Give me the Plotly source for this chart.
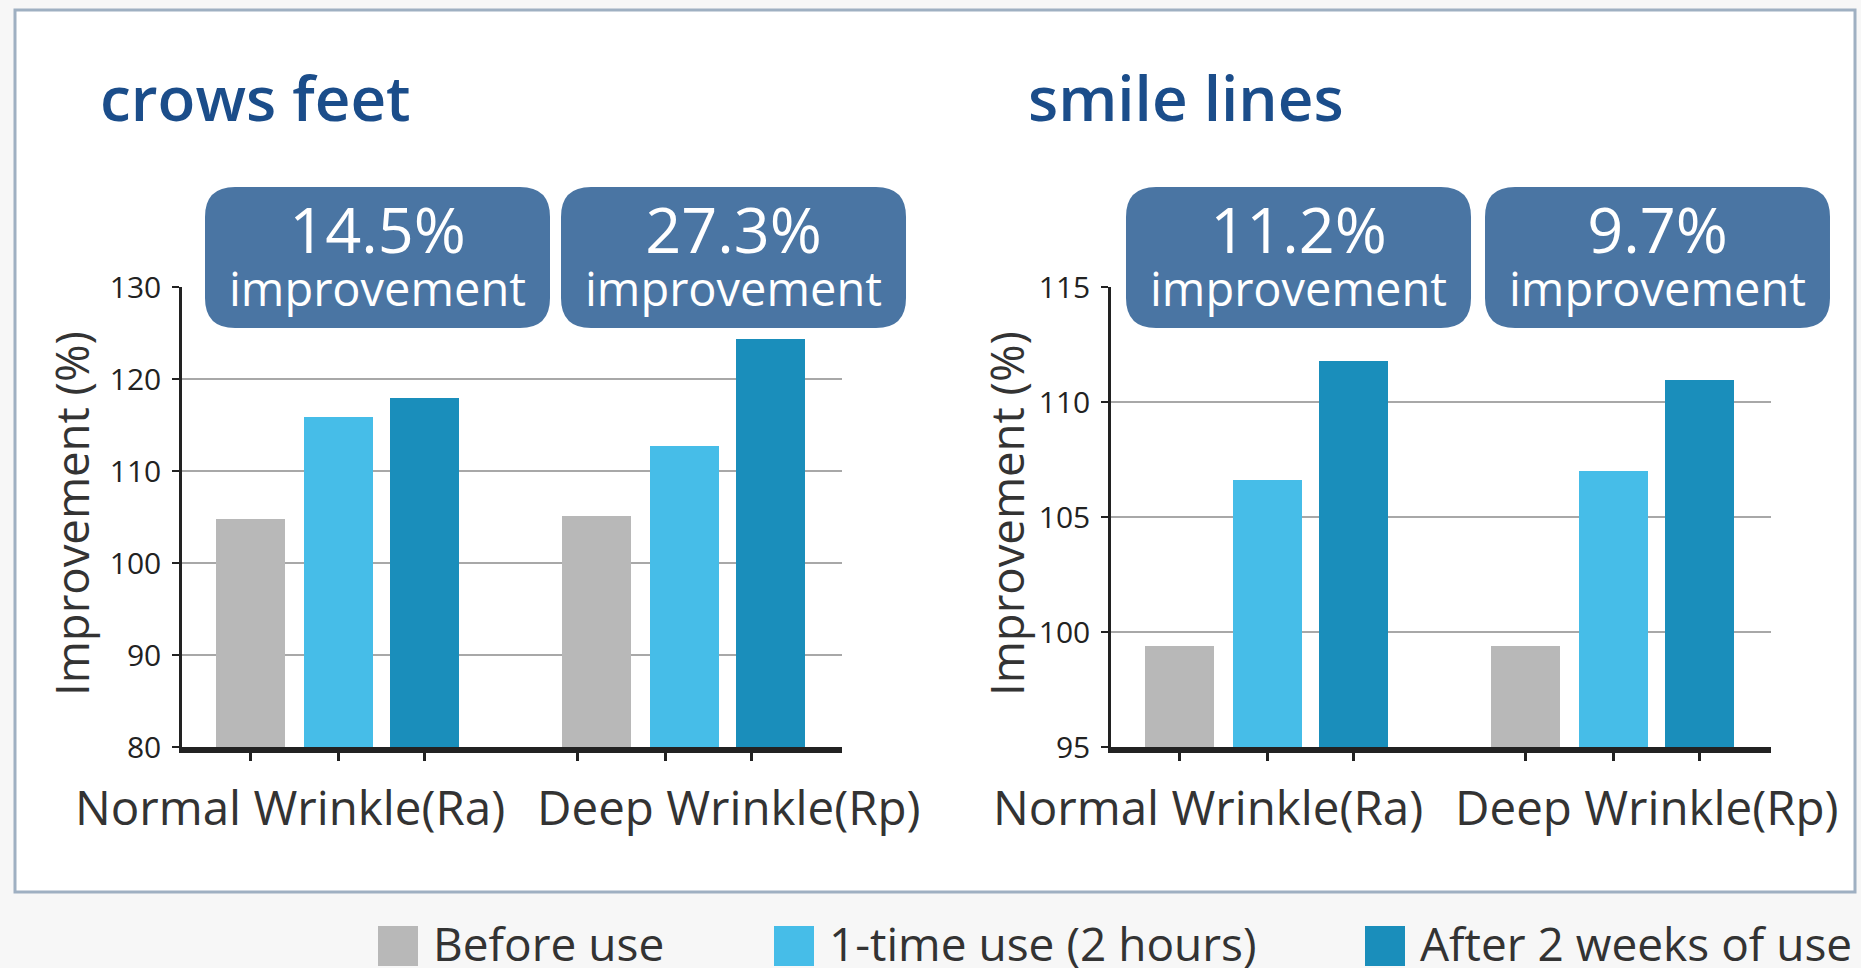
import plotly.graph_objects as go

W, H = 1861, 968

# ---- data ----
categories = ["Normal Wrinkle(Ra)", "Deep Wrinkle(Rp)"]
series_names = ["Before use", "1-time use (2 hours)", "After 2 weeks of use"]
series_colors = ["#b8b8b8", "#46bde8", "#1a8ebb"]

crows_before = [104.8, 105.1]
crows_one_time = [115.9, 112.7]
crows_two_weeks = [117.9, 124.3]
crows_gain = ["14.5%", "27.3%"]

smile_before = [99.4, 99.4]
smile_one_time = [106.6, 107.0]
smile_two_weeks = [111.8, 110.95]
smile_gain = ["11.2%", "9.7%"]

FONT = "Open Sans"
TITLE_BLUE = "#1b4d8a"
BOX_BLUE = "#4a75a3"
INK = "#333333"
AXIS = "#222222"


def X(px):  # pixel -> paper
    return px / W


def Y(px):
    return 1 - px / H


def rounded_box(x0, y0, x1, y1, r):
    pts = [
        ("M", [(x0 + r, y0)]), ("L", [(x1 - r, y0)]), ("Q", [(x1, y0), (x1, y0 + r)]),
        ("L", [(x1, y1 - r)]), ("Q", [(x1, y1), (x1 - r, y1)]),
        ("L", [(x0 + r, y1)]), ("Q", [(x0, y1), (x0, y1 - r)]),
        ("L", [(x0, y0 + r)]), ("Q", [(x0, y0), (x0 + r, y0)]),
    ]
    return " ".join(cmd + " " + " ".join("%.5f,%.5f" % (X(a), Y(b)) for a, b in p) for cmd, p in pts) + " Z"


panels = [
    dict(title="crows feet", series=[crows_before, crows_one_time, crows_two_weeks], gain=crows_gain,
         yrange=[80, 130], dtick=10, left=182, title_x=98, ytitle_x=71,
         label_x=[108, 547], tick_shift=[0, -19], box_left=[205, 561]),
    dict(title="smile lines", series=[smile_before, smile_one_time, smile_two_weeks], gain=smile_gain,
         yrange=[95, 115], dtick=5, left=1111, title_x=1026, ytitle_x=1006,
         label_x=[97, 536], tick_shift=[0, 0], box_left=[1126, 1485]),
]

axis_len = 660
group_centers = [156, 502]
bar_offsets = [-88, 0, 86]
bar_w = 69
plot_top, plot_bottom = 287, 747

fig = go.Figure()
shapes = []
annotations = []

# white panel
shapes.append(dict(type="rect", xref="paper", yref="paper", x0=X(15), x1=X(1855), y0=Y(892), y1=Y(10),
                   fillcolor="white", line=dict(color="#9fb0c2", width=3), layer="below"))

for i, p in enumerate(panels):
    sfx = "" if i == 0 else str(i + 1)
    for s in range(3):
        fig.add_trace(go.Bar(
            x=[gc + bar_offsets[s] for gc in group_centers], y=p["series"][s], width=bar_w,
            marker=dict(color=series_colors[s], line=dict(width=0)), name=series_names[s],
            showlegend=False, xaxis="x" + sfx, yaxis="y" + sfx))

    tickvals = [gc + off + p["tick_shift"][g] for g, gc in enumerate(group_centers) for off in bar_offsets]
    fig.update_layout({
        "xaxis" + sfx: dict(domain=[X(p["left"]), X(p["left"] + axis_len)], range=[0, axis_len],
                            anchor="y" + sfx, showgrid=False, zeroline=False, showline=True,
                            linewidth=6, linecolor=AXIS, ticks="outside", ticklen=8, tickwidth=3,
                            tickcolor=AXIS, tickvals=tickvals, showticklabels=False, automargin=False),
        "yaxis" + sfx: dict(domain=[Y(plot_bottom), Y(plot_top)], range=p["yrange"], dtick=p["dtick"],
                            anchor="x" + sfx, showline=True, linewidth=2.5, linecolor=AXIS,
                            ticks="outside", ticklen=7, tickwidth=2, tickcolor=AXIS,
                            showgrid=True, gridcolor="#a8a8a8", gridwidth=1.5, zeroline=False,
                            tickfont=dict(family=FONT, size=30, color="#222222"), ticklabelstandoff=5,
                            automargin=False),
    })

    annotations.append(dict(text=p["title"], xref="paper", yref="paper", x=X(p["title_x"]), y=Y(97),
                            xanchor="left", yanchor="middle", showarrow=False,
                            font=dict(family=FONT, size=62, color=TITLE_BLUE, weight=600)))
    annotations.append(dict(text="Improvement (%)", xref="paper", yref="paper", x=X(p["ytitle_x"]), y=Y(514),
                            textangle=-90, xanchor="center", yanchor="middle", showarrow=False,
                            font=dict(family=FONT, size=45.5, color=INK)))
    for g, cat in enumerate(categories):
        annotations.append(dict(text=cat, xref="paper", yref="paper", x=X(p["left"] + p["label_x"][g]), y=Y(806),
                                xanchor="center", yanchor="middle", showarrow=False,
                                font=dict(family=FONT, size=47.5, color=INK)))
        bx = p["box_left"][g]
        shapes.append(dict(type="path", xref="paper", yref="paper", path=rounded_box(bx, 187, bx + 345, 328, 30),
                           fillcolor=BOX_BLUE, line=dict(width=0), layer="above"))
        annotations.append(dict(
            text="<span style='font-size:63px'>%s</span><br><span style='font-size:47px'>improvement</span>"
                 % p["gain"][g],
            xref="paper", yref="paper", x=X(bx + 172), y=Y(253),
            xanchor="center", yanchor="middle", showarrow=False,
            font=dict(family=FONT, size=41, color="white")))

# legend drawn by hand
legend_x = [378, 774, 1365]
for s in range(3):
    x0 = legend_x[s]
    shapes.append(dict(type="rect", xref="paper", yref="paper", x0=X(x0), x1=X(x0 + 40), y0=Y(966), y1=Y(926),
                       fillcolor=series_colors[s], line=dict(width=0)))
    annotations.append(dict(text=series_names[s], xref="paper", yref="paper", x=X(x0 + 53), y=Y(943),
                            xanchor="left", yanchor="middle", showarrow=False,
                            font=dict(family=FONT, size=46, color=INK)))

fig.update_layout(
    width=W, height=H,
    margin=dict(l=0, r=0, t=0, b=0, autoexpand=False),
    paper_bgcolor="#f7f7f7", plot_bgcolor="rgba(0,0,0,0)",
    shapes=shapes, annotations=annotations,
    bargap=0, showlegend=False,
    font=dict(family=FONT, color=INK),
)

fig.write_html("out.html", config={"displayModeBar": False},
               post_script="document.body.style.margin='0';document.body.style.overflow='hidden';")
